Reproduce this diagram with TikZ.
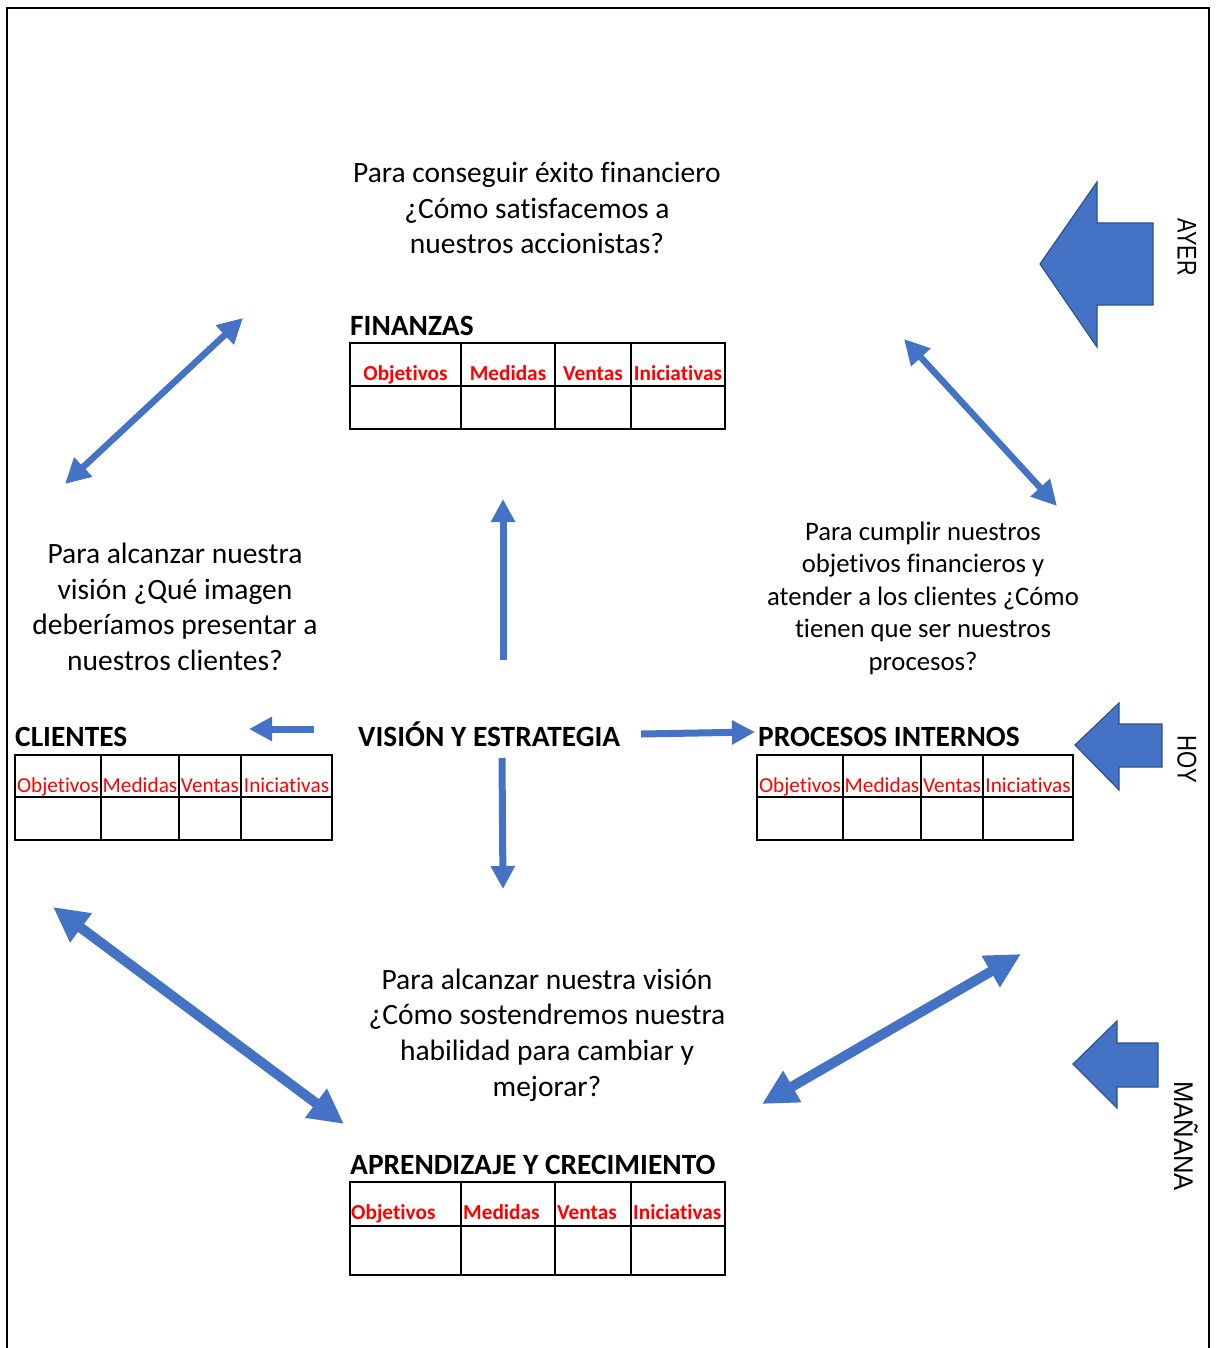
\documentclass[tikz,border=0pt]{standalone}
\usepackage{fontspec}
\setmainfont{Carlito}[Ligatures={NoCommon,NoRare,NoContextual}]
\newfontfamily\labelfont{Liberation Sans}
\usetikzlibrary{arrows.meta}
\definecolor{bscblue}{HTML}{4472C4}
\definecolor{bscedge}{HTML}{2F528F}
\definecolor{bscred}{HTML}{FF0000}

\begin{document}
\begin{tikzpicture}[x=1pt,y=-1pt,
  question/.style={align=center,inner sep=0pt,font=\fontsize{29.5}{35.7}\selectfont},
  smallquestion/.style={align=center,inner sep=0pt,font=\fontsize{26.7}{32.5}\selectfont},
  title/.style={anchor=base west,inner sep=0pt,font=\fontsize{29.4}{34}\selectfont\bfseries},
  head/.style={anchor=base,inner sep=0pt,text=bscred,font=\fontsize{21.3}{26}\selectfont},
  boldhead/.style={head,font=\fontsize{21.3}{26}\selectfont\bfseries},
  lefthead/.style={boldhead,anchor=base west},
  grid/.style={line width=1.6pt,black},
  link/.style={draw=bscblue,line width=6.5pt,
    {Triangle[length=25pt,width=25pt]}-{Triangle[length=25pt,width=25pt]}},
  biglink/.style={draw=bscblue,line width=10pt,
    {Triangle[length=35pt,width=34pt]}-{Triangle[length=35pt,width=34pt]}},
  push/.style={draw=bscblue,line width=7pt,-{Triangle[length=23pt,width=23pt]}},
  timearrow/.style={fill=bscblue,draw=bscedge,line width=1.2pt,line join=miter},
  timelabel/.style={rotate=-90,inner sep=0pt,font=\labelfont\fontsize{27}{30}\selectfont}
]
\useasboundingbox (0,0) rectangle (1217,1348);

% page frame
\draw[line width=1.5pt] (7,1348) -- (7,8) -- (1209,8) -- (1209,1348);

% questions of the four perspectives
\node[question] (qfin) at (537,208) {Para conseguir éxito financiero\\¿Cómo satisfacemos a\\nuestros accionistas?};
\node[question] (qcli) at (175,607) {Para alcanzar nuestra\\visión ¿Qué imagen\\deberíamos presentar a\\nuestros clientes?};
\node[smallquestion] (qpro) at (923,598) {Para cumplir nuestros\\objetivos financieros y\\atender a los clientes ¿Cómo\\tienen que ser nuestros\\procesos?};
\node[question] (qapr) at (547,1035) {Para alcanzar nuestra visión\\¿Cómo sostendremos nuestra\\habilidad para cambiar y\\mejorar?};

% perspective titles
\node[title] (tfin) at (350,335) {FINANZAS};
\node[title] (tcli) at (15,746) {CLIENTES};
\node[title] (tvis) at (358,746) {VISIÓN Y ESTRATEGIA};
\node[title] (tpro) at (758,746) {PROCESOS INTERNOS};
\node[title] (tapr) at (350,1174) {APRENDIZAJE Y CRECIMIENTO};

% FINANZAS table
\draw[grid] (350,343) rectangle (725,429);
\draw[grid] (350,386) -- (725,386);
\foreach \x in {461,555,631} \draw[grid] (\x,343) -- (\x,429);
\node[boldhead] (f1) at (405.5,380) {Objetivos};
\node[boldhead] (f2) at (508,380) {Medidas};
\node[boldhead] (f3) at (593,380) {Ventas};
\node[boldhead] (f4) at (678,380) {Iniciativas};

% CLIENTES table
\draw[grid] (15,755) rectangle (332,840);
\draw[grid] (15,797) -- (332,797);
\foreach \x in {101,179,241} \draw[grid] (\x,755) -- (\x,840);
\node[head] (c1) at (58,792) {Objetivos};
\node[head] (c2) at (140,792) {Medidas};
\node[head] (c3) at (210,792) {Ventas};
\node[head] (c4) at (286.5,792) {Iniciativas};

% PROCESOS INTERNOS table
\draw[grid] (757,755) rectangle (1073,840);
\draw[grid] (757,797) -- (1073,797);
\foreach \x in {843,921,983} \draw[grid] (\x,755) -- (\x,840);
\node[head] (p1) at (800,792) {Objetivos};
\node[head] (p2) at (882,792) {Medidas};
\node[head] (p3) at (952,792) {Ventas};
\node[head] (p4) at (1028,792) {Iniciativas};

% APRENDIZAJE Y CRECIMIENTO table
\draw[grid] (350,1182) rectangle (725,1275);
\draw[grid] (350,1226) -- (725,1226);
\foreach \x in {461,555,631} \draw[grid] (\x,1182) -- (\x,1275);
\node[lefthead] (a1) at (351,1219) {Objetivos};
\node[lefthead] (a2) at (463,1219) {Medidas};
\node[lefthead] (a3) at (557,1219) {Ventas};
\node[lefthead] (a4) at (633,1219) {Iniciativas};

% arrow end points
\coordinate (tlA) at (65,484);   \coordinate (tlB) at (243,318);
\coordinate (trA) at (904,339);  \coordinate (trB) at (1057,506);
\coordinate (blA) at (53,907);   \coordinate (blB) at (344,1124);
\coordinate (brA) at (1021,954); \coordinate (brB) at (762,1104);
\coordinate (upS) at (503,660);  \coordinate (upE) at (503,499);
\coordinate (dnS) at (502,758);  \coordinate (dnE) at (503,889);
\coordinate (lfS) at (314,729);  \coordinate (lfE) at (249,729);
\coordinate (rtS) at (641,734);  \coordinate (rtE) at (755,732);

% links between perspectives
\draw[link] (tlA) -- (tlB);
\draw[link] (trA) -- (trB);
\draw[biglink] (blA) -- (blB);
\draw[biglink] (brA) -- (brB);

% vision and strategy pushes outwards
\draw[push] (upS) -- (upE);
\draw[push] (dnS) -- (dnE);
\draw[push] (lfS) -- (lfE);
\draw[push] (rtS) -- (rtE);

% time arrows
\draw[timearrow] (1040,264) -- (1097,182) -- (1097,223) -- (1153,223) -- (1153,305) -- (1097,305) -- (1097,347) -- cycle;
\draw[timearrow] (1075,745) -- (1119,703) -- (1119,724) -- (1162,724) -- (1162,767) -- (1119,767) -- (1119,790) -- cycle;
\draw[timearrow] (1073,1064) -- (1117,1021) -- (1117,1043) -- (1158,1043) -- (1158,1087) -- (1117,1087) -- (1117,1108) -- cycle;

\node[timelabel] (ayer) at (1187,247) {\scalebox{0.8}[1]{AYER}};
\node[timelabel] (hoy) at (1187,759) {\scalebox{0.82}[1]{HOY}};
\node[timelabel] (manana) at (1186,1136) {\scalebox{0.95}[1]{MAÑANA}};
\end{tikzpicture}
\end{document}
